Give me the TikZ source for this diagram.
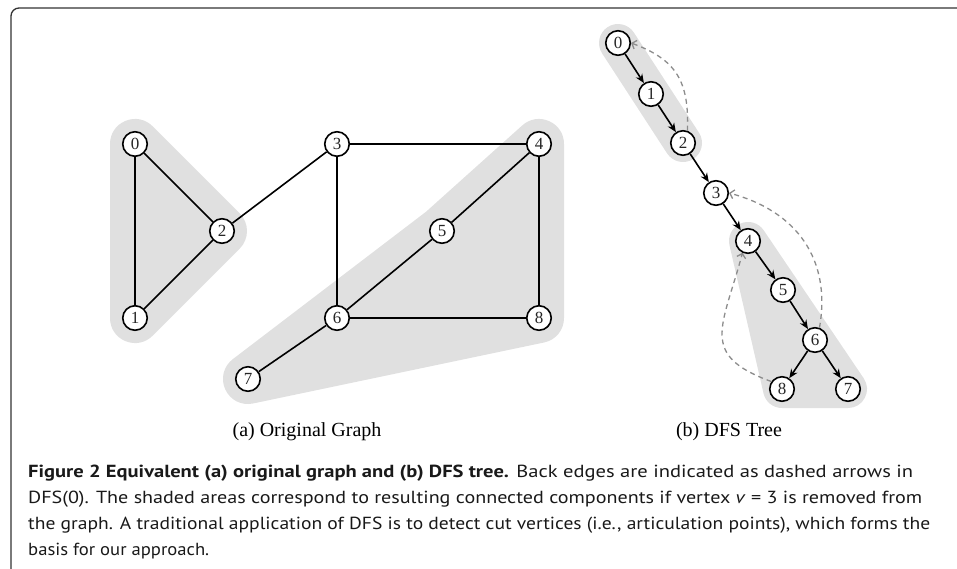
\documentclass[tikz,border=0pt]{standalone}
\usepackage{fontspec}
\usepackage{graphicx}
\setmainfont{Liberation Serif}
\newfontfamily\capfont{PT Sans}
\usetikzlibrary{arrows.meta,backgrounds}
\definecolor{shadec}{gray}{0.88}
\definecolor{framec}{gray}{0.2}
\definecolor{backc}{gray}{0.55}
\newsavebox\fitbox
\newcommand\fitline[2]{\sbox\fitbox{#2}\pgfmathsetmacro\fitratio{#1/\wd\fitbox}\scalebox{\fitratio}[1]{\usebox\fitbox}}
\begin{document}
\begin{tikzpicture}[x=1pt,y=1pt,
  vtx/.style={circle, draw=black, fill=white, line width=1.6pt, minimum size=24.5pt, inner sep=0pt,
    font=\fontsize{17}{17}\selectfont, text=black!85},
  gedge/.style={line width=1.6pt},
  tedge/.style={line width=1.6pt, -{Stealth[length=9pt,width=7.5pt]}},
  back/.style={draw=backc, line width=1.3pt, dash pattern=on 5pt off 4pt, -{Straight Barb[length=4pt,width=9pt]}},
  shadebig/.style={fill=shadec, draw=shadec, line width=50pt, line join=round, line cap=round},
  shadesmall/.style={fill=shadec, draw=shadec, line width=38pt, line join=round, line cap=round},
  capline/.style={anchor=base west, inner sep=0pt, font=\capfont\fontsize{17.5}{20}\selectfont, text=black!90},
  subcap/.style={anchor=base, inner sep=0pt, font=\fontsize{20}{24}\selectfont}
]
\useasboundingbox (0,0) rectangle (957,-568);
% frame
\draw[framec, line width=1.3pt, rounded corners=8pt] (11,-580) -- (11,-8) -- (970,-8);

% (a) original graph
\node[vtx] (g0) at (135,-144) {0};
\node[vtx] (g1) at (135,-318) {1};
\node[vtx] (g2) at (222,-231) {2};
\node[vtx] (g3) at (337,-144) {3};
\node[vtx] (g4) at (539,-144) {4};
\node[vtx] (g5) at (442,-231) {5};
\node[vtx] (g6) at (337,-318) {6};
\node[vtx] (g7) at (248,-379) {7};
\node[vtx] (g8) at (539,-318) {8};

\draw[gedge] (g0) -- (g1);
\draw[gedge] (g0) -- (g2);
\draw[gedge] (g2) -- (g1);
\draw[gedge] (g2) -- (g3);
\draw[gedge] (g3) -- (g4);
\draw[gedge] (g3) -- (g6);
\draw[gedge] (g4) -- (g5);
\draw[gedge] (g4) -- (g8);
\draw[gedge] (g5) -- (g6);
\draw[gedge] (g6) -- (g8);
\draw[gedge] (g6) -- (g7);

% (b) DFS tree
\node[vtx] (d0) at (618,-43) {0};
\node[vtx] (d1) at (651,-94) {1};
\node[vtx] (d2) at (683,-143) {2};
\node[vtx] (d3) at (716,-193) {3};
\node[vtx] (d4) at (748,-241) {4};
\node[vtx] (d5) at (783,-290) {5};
\node[vtx] (d6) at (815,-340) {6};
\node[vtx] (d8) at (782,-389) {8};
\node[vtx] (d7) at (848,-389) {7};

\draw[tedge] (d0) -- (d1);
\draw[tedge] (d1) -- (d2);
\draw[tedge] (d2) -- (d3);
\draw[tedge] (d3) -- (d4);
\draw[tedge] (d4) -- (d5);
\draw[tedge] (d5) -- (d6);
\draw[tedge] (d6) -- (d8);
\draw[tedge] (d6) -- (d7);

\draw[back] (d2.70) to[out=88,in=-20,looseness=1.2] (d0.east);
\draw[back] (d6.70) to[out=80,in=-15,looseness=1.1] (d3.east);
\draw[back] (d8.145) to[out=160,in=-105,looseness=1.5] (d4.245);

\begin{scope}[on background layer]
  \filldraw[shadebig] (g0.center) -- (g2.center) -- (g1.center) -- cycle;
  \filldraw[shadebig] (g7.center) -- (g5.center) -- (g4.center) -- (g8.center) -- cycle;
  \draw[shadesmall] (d0.center) -- (d2.center);
  \filldraw[shadesmall] (d4.center) -- (d7.center) -- (d8.center) -- cycle;
\end{scope}

% sub captions
\node[subcap] (sa) at (307,-436) {(a) Original Graph};
\node[subcap] (sb) at (729,-436) {(b) DFS Tree};

% caption
\node[capline] (c1) at (28,-477) {\fitline{885}{\textbf{Figure 2 Equivalent (a) original graph and (b) DFS tree.} Back edges are indicated as dashed arrows in}};
\node[capline] (c2) at (28,-503) {\fitline{894}{DFS(0). The shaded areas correspond to resulting connected components if vertex \textit{v} = 3 is removed from}};
\node[capline] (c3) at (28,-529) {\fitline{902}{the graph. A traditional application of DFS is to detect cut vertices (i.e., articulation points), which forms the}};
\node[capline] (c4) at (28,-555) {\fitline{181}{basis for our approach.}};
\end{tikzpicture}
\end{document}
